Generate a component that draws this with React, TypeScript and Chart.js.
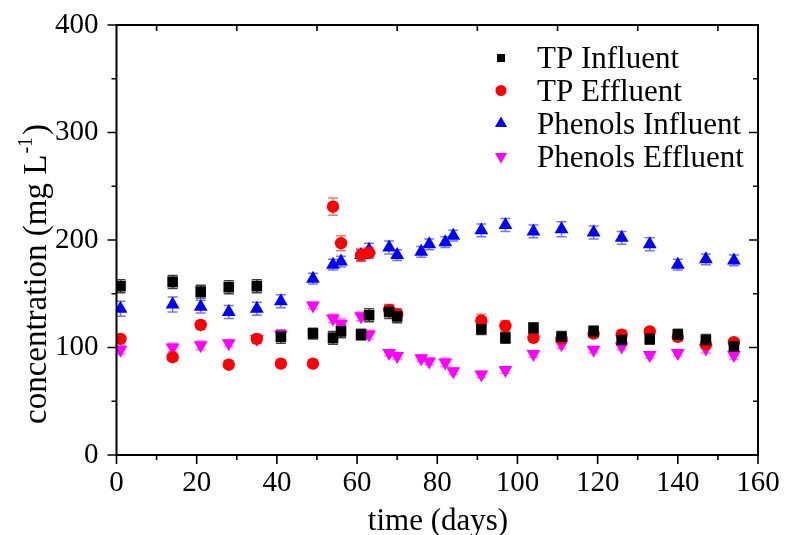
import React, { useEffect, useRef } from 'react';
import { Chart, registerables } from 'chart.js';

Chart.register(...registerables);

// ---------- data ----------
const tpDays = [1, 14, 21, 28, 35, 41, 49, 54, 56, 61, 63, 68, 70, 91, 97, 104, 111, 119, 126, 133, 140, 147, 154];
const tpInfluent = [157, 161, 152, 156, 157, 110, 113, 109, 115, 112, 130, 133, 129, 117, 109, 118, 110, 115, 107, 108, 112, 107, 101];
const tpInfluentErr = [6, 6, 6, 6, 6, 6, 5, 6, 6, 5, 6, 6, 6, 5, 5, 5, 5, 5, 5, 5, 5, 5, 5];
const tpEffluent = [108, 91, 121, 84, 108, 85, 85, 231, 197, 186, 188, 135, 131, 125, 120, 109, 108, 113, 112, 115, 110, 103, 105];
const tpEffluentErr = [3, 3, 4, 2, 2, 3, 2, 8, 7, 6, 5, 5, 5, 6, 5, 3, 3, 4, 4, 3, 4, 4, 3];

const phDays = [1, 14, 21, 28, 35, 41, 49, 54, 56, 61, 63, 68, 70, 76, 78, 82, 84, 91, 97, 104, 111, 119, 126, 133, 140, 147, 154];
const phInfluent = [136, 140, 138, 133, 136, 143, 164, 177, 180, 186, 191, 193, 186, 189, 196, 198, 204, 209, 214, 208, 210, 207, 202, 196, 177, 182, 181];
const phInfluentErr = [7, 7, 6, 6, 6, 6, 5, 5, 5, 5, 6, 6, 5, 5, 5, 5, 5, 6, 6, 6, 7, 6, 6, 6, 5, 5, 5];
const phEffluent = [98, 100, 102, 104, 108, 112, 139, 127, 122, 129, 112, 95, 92, 90, 87, 86, 78, 75, 79, 94, 103, 98, 101, 93, 95, 99, 93];
const phEffluentErr = [4, 4, 4, 3, 4, 4, 3, 4, 5, 4, 4, 3, 3, 3, 3, 4, 3, 3, 3, 3, 4, 3, 3, 3, 3, 4, 4];

const seriesNames = ['TP Influent', 'TP Effluent', 'Phenols Influent', 'Phenols Effluent'];
const xTicks = [0, 20, 40, 60, 80, 100, 120, 140, 160];
const yTicks = [0, 100, 200, 300, 400];
const xTitle = 'time (days)';
const yTitleMain = 'concentration (mg L';
const yTitleSup = '-1';
const yTitleEnd = ')';

const FONT = '"Liberation Serif", "Times New Roman", serif';

const colors = ['#000000', '#ff0000', '#0000ff', '#ff00ff'];
const errColors = ['rgba(0,0,0,0.75)', 'rgba(255,0,0,0.55)', 'rgba(0,0,255,0.55)', 'rgba(255,0,255,0.55)'];

const toPts = (xs: number[], ys: number[]) => xs.map((x, i) => ({ x, y: ys[i] }));

const errorsBySeries = [tpInfluentErr, tpEffluentErr, phInfluentErr, phEffluentErr];

function drawMarker(ctx: CanvasRenderingContext2D, kind: number, x: number, y: number, r: number) {
  ctx.beginPath();
  if (kind === 0) {
    ctx.rect(x - r, y - r, 2 * r, 2 * r);
  } else if (kind === 1) {
    ctx.arc(x, y, r, 0, Math.PI * 2);
  } else if (kind === 2) {
    ctx.moveTo(x, y - r);
    ctx.lineTo(x + r * 0.866, y + r * 0.5);
    ctx.lineTo(x - r * 0.866, y + r * 0.5);
    ctx.closePath();
  } else {
    ctx.moveTo(x, y + r);
    ctx.lineTo(x + r * 0.866, y - r * 0.5);
    ctx.lineTo(x - r * 0.866, y - r * 0.5);
    ctx.closePath();
  }
  ctx.fill();
}

const decorPlugin = {
  id: 'decor',
  beforeDatasetsDraw(chart: any) {
    const ctx = chart.ctx as CanvasRenderingContext2D;
    const xs = chart.scales.x;
    const ys = chart.scales.y;
    ctx.save();
    chart.data.datasets.forEach((ds: any, i: number) => {
      const errs = errorsBySeries[i];
      ctx.strokeStyle = errColors[i];
      ctx.lineWidth = 1.5;
      ds.data.forEach((p: any, j: number) => {
        const e = errs[j];
        const px = xs.getPixelForValue(p.x);
        const top = ys.getPixelForValue(p.y + e);
        const bot = ys.getPixelForValue(p.y - e);
        ctx.beginPath();
        ctx.moveTo(px, top);
        ctx.lineTo(px, bot);
        ctx.moveTo(px - 5, top);
        ctx.lineTo(px + 5, top);
        ctx.moveTo(px - 5, bot);
        ctx.lineTo(px + 5, bot);
        ctx.stroke();
      });
    });
    ctx.restore();
  },
  afterDraw(chart: any) {
    const ctx = chart.ctx as CanvasRenderingContext2D;
    const a = chart.chartArea;
    const xs = chart.scales.x;
    const ys = chart.scales.y;
    ctx.save();
    // frame
    ctx.strokeStyle = '#000';
    ctx.lineWidth = 2;
    ctx.strokeRect(a.left, a.top, a.right - a.left, a.bottom - a.top);
    ctx.lineWidth = 1.6;
    ctx.beginPath();
    for (let v = 0; v <= 160; v += 10) {
      const px = xs.getPixelForValue(v);
      const len = v % 20 === 0 ? 9 : 5;
      ctx.moveTo(px, a.bottom);
      ctx.lineTo(px, a.bottom + len);
      if (v % 20 !== 0) {
        ctx.moveTo(px, a.top);
        ctx.lineTo(px, a.top + 6);
      }
    }
    for (let v = 0; v <= 400; v += 50) {
      const py = ys.getPixelForValue(v);
      const len = v % 100 === 0 ? 9 : 5;
      ctx.moveTo(a.left, py);
      ctx.lineTo(a.left - len, py);
      ctx.moveTo(a.right, py);
      ctx.lineTo(a.right - len, py);
    }
    ctx.stroke();

    // axis titles
    ctx.fillStyle = '#000';
    ctx.font = `31px ${FONT}`;
    ctx.textAlign = 'center';
    ctx.textBaseline = 'alphabetic';
    ctx.fillText(xTitle, 438, 530);

    ctx.save();
    ctx.translate(46, 424);
    ctx.rotate(-Math.PI / 2);
    ctx.textAlign = 'left';
    ctx.font = `33px ${FONT}`;
    ctx.fillText(yTitleMain, 0, 0);
    let w = ctx.measureText(yTitleMain).width;
    ctx.font = `20px ${FONT}`;
    ctx.fillText(yTitleSup, w + 1, -14);
    w += ctx.measureText(yTitleSup).width + 3;
    ctx.font = `33px ${FONT}`;
    ctx.fillText(yTitleEnd, w, 0);
    ctx.restore();

    // legend
    const rows = [58, 90.5, 123.5, 156.5];
    const sizes = [4, 5.5, 7, 7];
    seriesNames.forEach((name, i) => {
      ctx.fillStyle = colors[i];
      drawMarker(ctx, i, 501, rows[i], sizes[i]);
      ctx.fillStyle = '#000';
      ctx.font = `31px ${FONT}`;
      ctx.textAlign = 'left';
      ctx.textBaseline = 'alphabetic';
      ctx.fillText(name, 537, rows[i] + 10);
    });
    ctx.restore();
  },
};

export default function App() {
  const ref = useRef<HTMLCanvasElement | null>(null);
  useEffect(() => {
    if (!ref.current) return;
    const chart = new Chart(ref.current, {
      type: 'scatter',
      data: {
        datasets: [
          {
            label: seriesNames[0],
            data: toPts(tpDays, tpInfluent),
            pointStyle: 'rect',
            pointRadius: 7.5,
            backgroundColor: colors[0],
            borderColor: colors[0],
            borderWidth: 0,
          },
          {
            label: seriesNames[1],
            data: toPts(tpDays, tpEffluent),
            pointStyle: 'circle',
            pointRadius: 6.2,
            backgroundColor: colors[1],
            borderColor: colors[1],
            borderWidth: 0,
          },
          {
            label: seriesNames[2],
            data: toPts(phDays, phInfluent),
            pointStyle: 'triangle',
            pointRadius: 8,
            backgroundColor: colors[2],
            borderColor: colors[2],
            borderWidth: 0,
          },
          {
            label: seriesNames[3],
            data: toPts(phDays, phEffluent),
            pointStyle: 'triangle',
            rotation: 180,
            pointRadius: 8,
            backgroundColor: colors[3],
            borderColor: colors[3],
            borderWidth: 0,
          },
        ],
      },
      options: {
        animation: false,
        responsive: false,
        maintainAspectRatio: false,
        layout: { padding: { top: 25, right: 28, left: 0, bottom: 0 } },
        plugins: {
          legend: { display: false },
          tooltip: { enabled: false },
        },
        scales: {
          x: {
            type: 'linear',
            min: 0,
            max: 160,
            afterFit: (s: any) => {
              s.height = 80;
              s.paddingLeft = 0;
              s.paddingRight = 0;
            },
            afterBuildTicks: (s: any) => {
              s.ticks = xTicks.map((v) => ({ value: v }));
            },
            grid: { display: false, drawTicks: false },
            border: { display: false },
            ticks: {
              color: '#000',
              font: { family: FONT, size: 29 },
              padding: 11,
              maxRotation: 0,
              autoSkip: false,
            },
          },
          y: {
            type: 'linear',
            min: 0,
            max: 400,
            afterFit: (s: any) => {
              s.width = 116.5;
              s.paddingTop = 0;
              s.paddingBottom = 0;
            },
            afterBuildTicks: (s: any) => {
              s.ticks = yTicks.map((v) => ({ value: v }));
            },
            grid: { display: false, drawTicks: false },
            border: { display: false },
            ticks: {
              color: '#000',
              font: { family: FONT, size: 29 },
              padding: 18,
              autoSkip: false,
            },
          },
        },
      },
      plugins: [decorPlugin],
    });
    return () => chart.destroy();
  }, []);
  return (
    <div style={{ position: 'fixed', left: 0, top: 0, width: 786, height: 535, background: '#fff' }}>
      <canvas ref={ref} width={786} height={535} style={{ display: 'block' }} />
    </div>
  );
}
